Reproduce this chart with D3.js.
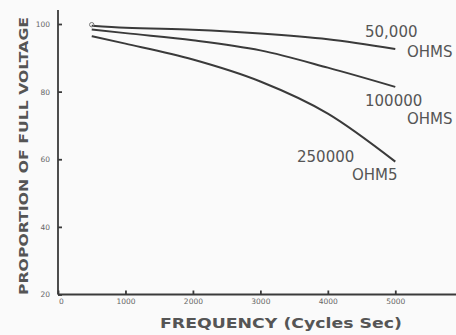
<!DOCTYPE html>
<html>
<head>
<meta charset="utf-8">
<script src="https://cdn.jsdelivr.net/npm/d3@7"></script>
<style>
    body { margin: 0; background: #fafafa; }
    svg { display: block; background: #fafafa; }
    .curve { fill: none; stroke: #3a3a3a; stroke-width: 2; }
    .axis path, .axis line { stroke: #3a3a3a; stroke-width: 1.8; }
    .axis text { fill: #666; font-family: "DejaVu Sans", sans-serif; font-size: 7.5px; }
    .lbl { fill: #555; font-family: "DejaVu Sans", sans-serif; font-size: 15px; }
    .title { fill: #555; font-family: "DejaVu Sans", sans-serif; font-weight: bold; }
</style>
</head>
<body>
<svg width="456" height="335"></svg>
<script>
// frequency (cycles/sec) and proportion of full voltage
var freqs = [500, 1000, 2000, 3000, 4000, 5000];
var ohms50k  = [99.5, 98.9, 98.3, 97.2, 95.5, 92.6];
var ohms100k = [98.4, 97.3, 95.2, 92.2, 87.1, 81.4];
var ohms250k = [96.4, 94.2, 89.5, 83.0, 73.5, 59.3];
var curveNames = [["50,000", "OHMS"], ["100000", "OHMS"], ["250000", "OHM5"]];
var xTicks = [0, 1000, 2000, 3000, 4000, 5000];
var yTicks = [20, 40, 60, 80, 100];

var svg = d3.select("svg");

var x = d3.scaleLinear().domain([0, 5900]).range([58, 456]);
var y = d3.scaleLinear().domain([20, 100]).range([294.5, 24]);

// y axis, ticks point inward
svg.append("g")
    .attr("class", "axis")
    .attr("transform", "translate(58,0)")
    .call(d3.axisLeft(y).tickValues(yTicks).tickSize(-4).tickPadding(8).tickSizeOuter(0))
    .call(function (g) { g.select(".domain").attr("d", "M0," + 10 + "V" + y(20)); });

// x axis, ticks point up
svg.append("g")
    .attr("class", "axis")
    .attr("transform", "translate(0," + y(20) + ")")
    .call(d3.axisBottom(x).tickValues(xTicks).tickFormat(d3.format("d"))
        .tickSize(-4).tickPadding(4).tickSizeOuter(0))
    .call(function (g) {
        g.select(".domain").attr("d", "M" + x(0) + ",0H456");
        g.select(".tick text").attr("dx", 3);   // the "0" sits a bit right of the corner
    });

var line = d3.line()
    .x(function (d) { return x(d[0]); })
    .y(function (d) { return y(d[1]); })
    .curve(d3.curveMonotoneX);

var series = [ohms50k, ohms100k, ohms250k];
series.forEach(function (vals) {
    svg.append("path")
        .attr("class", "curve")
        .attr("d", line(freqs.map(function (f, i) { return [f, vals[i]]; })));
});

// small ring at the start of the top curve
svg.append("circle")
    .attr("cx", x(freqs[0]))
    .attr("cy", y(ohms50k[0]) - 1)
    .attr("r", 2.2)
    .attr("fill", "none")
    .attr("stroke", "#777")
    .attr("stroke-width", 1);

// curve labels, placed near the end of each curve
var labelPos = [[365, 37, 407, 57], [365, 106, 407, 124], [297, 162, 352, 180]];
curveNames.forEach(function (n, i) {
    var p = labelPos[i];
    svg.append("text").attr("class", "lbl").attr("x", p[0]).attr("y", p[1]).text(n[0]);
    svg.append("text").attr("class", "lbl").attr("x", p[2]).attr("y", p[3]).text(n[1]);
});

// axis titles
svg.append("text")
    .attr("class", "title")
    .attr("transform", "translate(28,156) rotate(-90)")
    .attr("text-anchor", "middle")
    .attr("font-size", 13)
    .attr("textLength", 278)
    .attr("lengthAdjust", "spacingAndGlyphs")
    .text("PROPORTION OF FULL VOLTAGE");

svg.append("text")
    .attr("class", "title")
    .attr("x", 160)
    .attr("y", 328)
    .attr("font-size", 14)
    .attr("textLength", 242)
    .attr("lengthAdjust", "spacingAndGlyphs")
    .text("FREQUENCY (Cycles Sec)");
</script>
</body>
</html>
